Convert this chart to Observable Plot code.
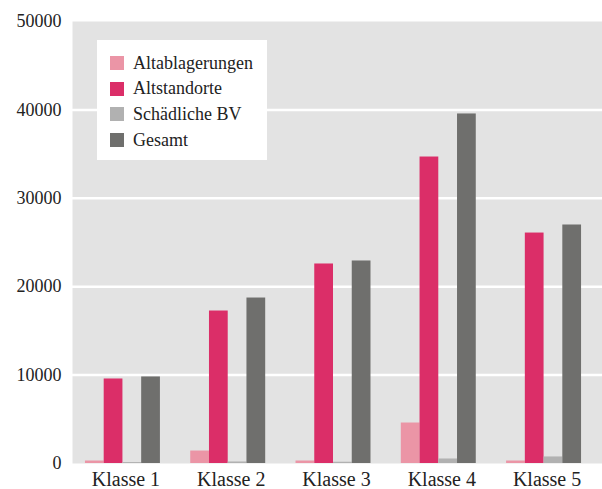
<!DOCTYPE html>
<html>
<head>
<meta charset="utf-8">
<script src="https://cdn.jsdelivr.net/npm/d3@7"></script>
<script src="https://cdn.jsdelivr.net/npm/@observablehq/plot@0.6"></script>
<style>
  html, body { margin: 0; padding: 0; background: #fff; }
  #wrap { position: relative; width: 602px; height: 489px; font-family: "Liberation Serif", serif; }
  #wrap svg, #wrap svg text { font-family: "Liberation Serif", serif !important; }
  #legend { position: absolute; left: 97px; top: 40px; width: 170px; height: 120px; background: #fff; }
  .item { position: absolute; left: 13px; height: 26px; display: flex; align-items: center; font-size: 18px; color: #222; }
  .sw { width: 14px; height: 14px; margin-right: 9px; }
</style>
</head>
<body>
<div id="wrap"><div id="legend"></div></div>
<script>
const classes = ["Klasse 1", "Klasse 2", "Klasse 3", "Klasse 4", "Klasse 5"];
const seriesNames = ["Altablagerungen", "Altstandorte", "Schädliche BV", "Gesamt"];
const colors = ["#eb95a6", "#db2e68", "#b1b1b1", "#6f6f6d"];
const altablagerungen = [280, 1410, 280, 4580, 280];
const altstandorte = [9560, 17250, 22570, 34670, 26070];
const schaedlicheBV = [110, 170, 140, 510, 740];
const gesamt = [9790, 18720, 22910, 39540, 26980];
const yTicks = [0, 10000, 20000, 30000, 40000, 50000];
const gridTicks = [10000, 20000, 30000, 40000];

const seriesValues = [altablagerungen, altstandorte, schaedlicheBV, gesamt];

const width = 602, height = 489;
const marginLeft = 72, marginTop = 21, marginBottom = 26, marginRight = 0;
const xRange = [72, 594];
const paddingInner = 0.288, paddingOuter = 0.123;
const step = (xRange[1] - xRange[0]) / (classes.length - paddingInner + 2 * paddingOuter);
const bw = step * (1 - paddingInner);
const sub = bw / seriesNames.length;
const font = "Liberation Serif";

const barMarks = seriesValues.map((vals, k) =>
  Plot.barY(classes.map((c, i) => ({klasse: c, value: vals[i]})), {
    x: "klasse", y: "value", fill: colors[k],
    insetLeft: k * sub, insetRight: (seriesNames.length - 1 - k) * sub
  })
);

const plot = Plot.plot({
  width, height, marginLeft, marginTop, marginBottom, marginRight,
  style: {fontFamily: font, fontSize: "18px", color: "#222", background: "transparent"},
  x: {domain: classes, range: xRange, paddingInner, paddingOuter, round: false, label: null},
  y: {domain: [0, 50000], label: null},
  marks: [
    Plot.frame({fill: "#e3e3e3", stroke: null}),
    Plot.ruleY(gridTicks, {stroke: "#fff", strokeWidth: 2.5}),
    ...barMarks,
    Plot.axisY({ticks: yTicks, tickSize: 0, tickPadding: 11, tickFormat: d => String(d), fontSize: 18, fontFamily: font, fill: "#222", label: null}),
    Plot.axisX({tickSize: 0, tickPadding: 8, fontSize: 20, fontFamily: font, fill: "#222", dx: 3, label: null})
  ]
});
document.getElementById("wrap").prepend(plot);

const legend = document.getElementById("legend");
seriesNames.forEach((name, k) => {
  const it = document.createElement("div");
  it.className = "item";
  it.style.top = (10 + k * 25.7) + "px";
  const sw = document.createElement("div");
  sw.className = "sw";
  sw.style.background = colors[k];
  const tx = document.createElement("span");
  tx.textContent = name;
  it.append(sw, tx);
  legend.append(it);
});
</script>
</body>
</html>
